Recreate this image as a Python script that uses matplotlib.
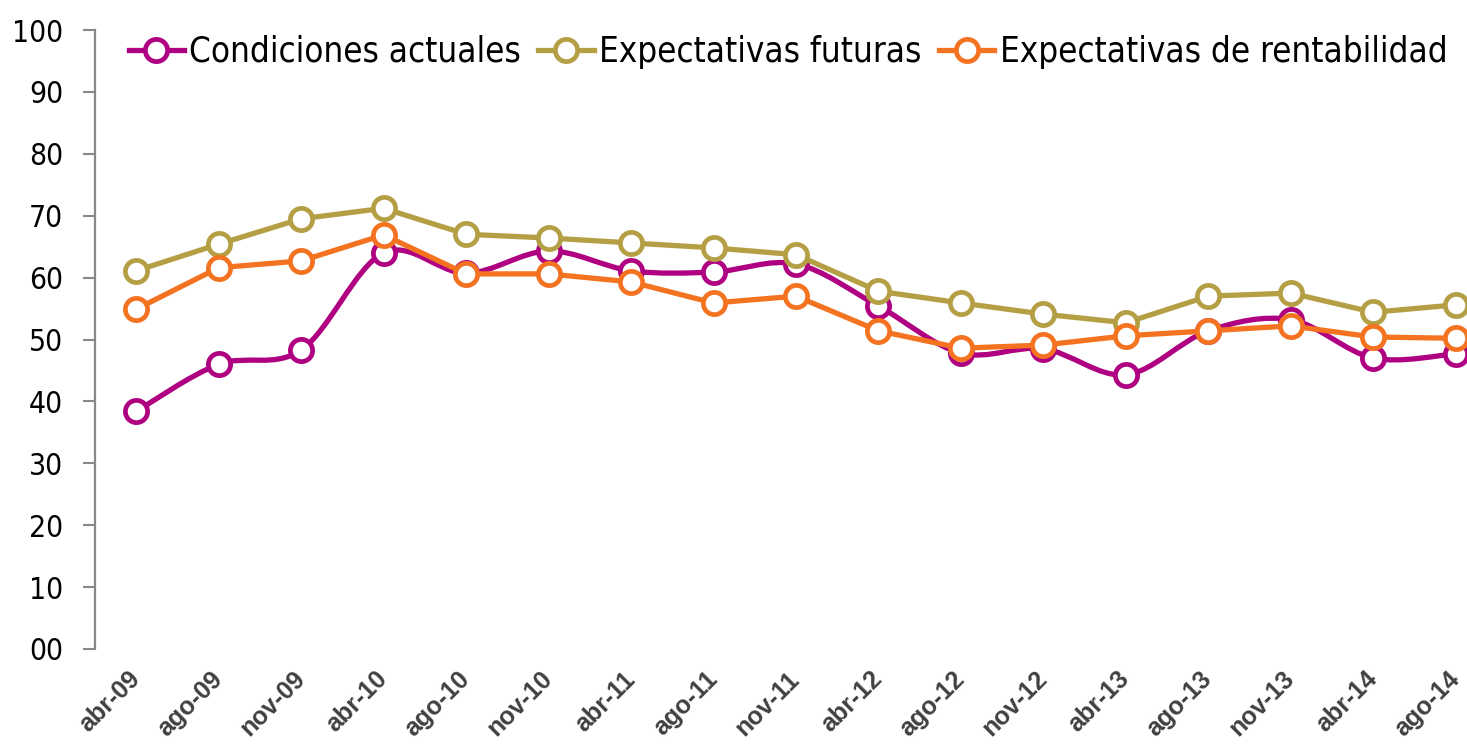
import matplotlib
matplotlib.use('Agg')
import matplotlib.pyplot as plt
from matplotlib import font_manager
from matplotlib.path import Path
from matplotlib.patches import PathPatch
from matplotlib.lines import Line2D

months = ['abr-09', 'ago-09', 'nov-09', 'abr-10', 'ago-10', 'nov-10', 'abr-11', 'ago-11', 'nov-11',
          'abr-12', 'ago-12', 'nov-12', 'abr-13', 'ago-13', 'nov-13', 'abr-14', 'ago-14']
condiciones = [38.4, 46.0, 48.3, 64.0, 60.7, 64.3, 61.1, 60.9, 62.2,
               55.4, 47.8, 48.5, 44.3, 51.4, 53.2, 47.0, 47.7]
futuras = [61.1, 65.4, 69.5, 71.2, 67.0, 66.4, 65.6, 64.8, 63.7,
           57.8, 55.9, 54.1, 52.7, 57.0, 57.5, 54.4, 55.6]
rentabilidad = [54.9, 61.6, 62.7, 66.9, 60.6, 60.6, 59.3, 55.9, 57.0,
                51.4, 48.6, 49.1, 50.6, 51.4, 52.2, 50.4, 50.2]
series_names = ['Condiciones actuales', 'Expectativas futuras', 'Expectativas de rentabilidad']
ytick_labels = ['00', '10', '20', '30', '40', '50', '60', '70', '80', '90', '100']

purple = '#AE0080'
olive = '#B59F45'
orange = '#F47321'

# look for a narrow / condensed sans font, otherwise use a plain one a bit smaller
narrow_file = None
for f in font_manager.fontManager.ttflist:
    name = f.name.lower()
    if ('narrow' in name or 'condensed' in name or 'condensed' in str(f.stretch)) \
            and f.style == 'normal' and f.weight in (400, 'normal', 'regular') \
            and 'mono' not in name and 'serif' not in name.replace('sans', ''):
        narrow_file = f.fname
        break

if narrow_file:
    def tfont(size):
        return font_manager.FontProperties(fname=narrow_file, size=size)
    leg_size, tick_size = 25, 21.5
else:
    def tfont(size):
        return font_manager.FontProperties(family='Liberation Sans', size=size)
    leg_size, tick_size = 24.5, 20


def smooth_path(xs, ys):
    # bezier curve through the points, like a "smoothed line" in a spreadsheet
    pts = list(zip(xs, ys))
    n = len(pts)
    verts = [pts[0]]
    codes = [Path.MOVETO]
    for i in range(n - 1):
        p0 = pts[max(i - 1, 0)]
        p1 = pts[i]
        p2 = pts[i + 1]
        p3 = pts[min(i + 2, n - 1)]
        c1 = (p1[0] + (p2[0] - p0[0]) / 6, p1[1] + (p2[1] - p0[1]) / 6)
        c2 = (p2[0] - (p3[0] - p1[0]) / 6, p2[1] - (p3[1] - p1[1]) / 6)
        verts += [c1, c2, p2]
        codes += [Path.CURVE4] * 3
    return Path(verts, codes)


fig = plt.figure(figsize=(14.67, 7.49), dpi=100)
ax = fig.add_axes([95 / 1467, 1 - 649 / 749, 1402 / 1467, 619 / 749])

x = list(range(len(months)))
lw = 3.8
mk = dict(marker='o', markersize=16, markerfacecolor='white', markeredgewidth=3.4)

ax.add_patch(PathPatch(smooth_path(x, condiciones), facecolor='none', edgecolor=purple,
                       linewidth=lw, zorder=2, capstyle='round', joinstyle='round'))
ax.plot(x, condiciones, linestyle='none', color=purple, zorder=2.1, **mk)
ax.plot(x, futuras, color=olive, linewidth=lw, zorder=3, **mk)
ax.plot(x, rentabilidad, color=orange, linewidth=lw, zorder=4, **mk)

ax.set_xlim(-0.5, len(months) - 0.5)
ax.set_ylim(0, 100)
ax.set_yticks(range(0, 101, 10))
ax.set_yticklabels(ytick_labels, fontproperties=tfont(tick_size), color='black')
ax.set_xticks(x)
ax.set_xticklabels(months, rotation=45, ha='right', va='center', rotation_mode='anchor',
                   fontsize=18, fontweight='bold', color='#404040', family='Liberation Sans')
ax.tick_params(axis='x', length=0, pad=19)
ax.tick_params(axis='y', length=9, width=1.5, color='#888888', pad=14)

for s in ['top', 'right', 'bottom']:
    ax.spines[s].set_visible(False)
ax.spines['left'].set_color('#888888')
ax.spines['left'].set_linewidth(1.6)

handles = [Line2D([], [], color=c, linewidth=lw, **mk) for c in (purple, olive, orange)]
fig.legend(handles, series_names,
           loc='upper center', bbox_to_anchor=(788 / 1467, 1 - 21 / 749), ncol=3, frameon=False,
           prop=tfont(leg_size), handlelength=1.6, handletextpad=0.15,
           columnspacing=0.5, borderaxespad=0)

fig.savefig('out.png', dpi=100)
